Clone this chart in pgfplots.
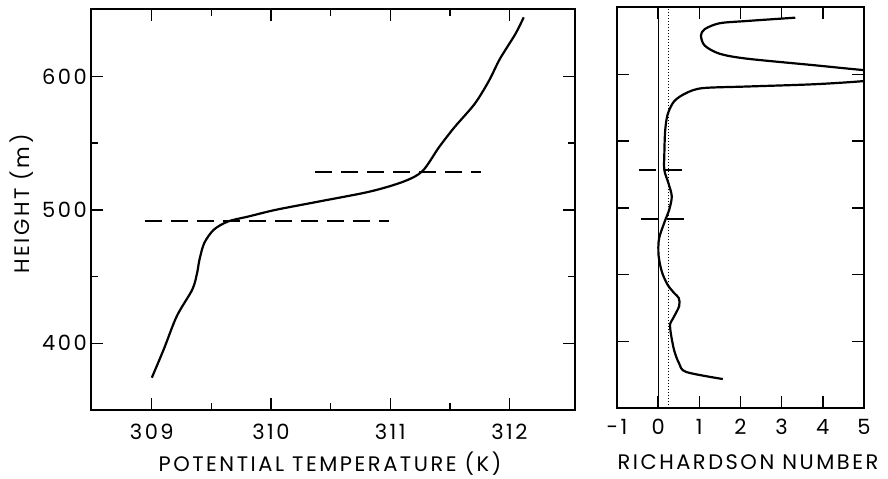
\documentclass[border=0pt]{standalone}
\usepackage{fontspec}
\setmainfont{Poppins}
\newfontfamily\lbl[LetterSpace=12]{Poppins}
\usepackage{pgfplots}
\pgfplotsset{compat=1.18}

% potential temperature profile (K vs m)
\newcommand{\fs}{\lbl\fontsize{21bp}{23bp}\selectfont}

\begin{document}
\begin{tikzpicture}
\useasboundingbox (-91bp,-69bp) rectangle (797bp,410bp);

\pgfplotsset{
  every axis/.append style={
    scale only axis,
    axis line style={line width=1.4bp},
    tick style={line width=1.4bp, black},
    tick align=inside,
    major tick length=12bp,
    minor tick length=7bp,
    /pgf/number format/assume math mode=true,
    tick label style={font=\fs},
    clip=true,
  },
}

\begin{axis}[
  at={(0bp,0bp)}, anchor=south west,
  width=484bp, height=401bp,
  xmin=308.49, xmax=312.55,
  ymin=350, ymax=650.5,
  xtick={309,310,311,312},
  xticklabels={309,310,311,312},
  minor xtick={309.5,310.5,311.5},
  ytick={400,500,600},
  yticklabels={400,500,600},
  minor ytick={450,550},
  xticklabel style={anchor=center, yshift=-22bp},
  yticklabel style={anchor=east, inner sep=1bp, xshift=-3bp},
  xtick pos=both, ytick pos=both,
]
\addplot[line width=2.2bp, smooth, tension=0.5] coordinates {
  (309.00,374.2) (309.10,395.4) (309.21,420.4) (309.34,440.3)
  (309.38,452.7) (309.40,462.7) (309.44,475.1) (309.52,485.1)
  (309.64,491.3) (309.81,495.0) (310.04,500.0) (310.40,506.2)
  (310.83,513.7) (311.11,521.1) (311.27,529.0) (311.41,547.0)
  (311.54,562.0) (311.71,579.6) (311.83,597.0) (311.92,613.1)
  (312.05,631.8) (312.12,644.3)
};
\addplot[line width=1.4bp, dash pattern=on 17bp off 9bp] coordinates {
  (308.94,491.5) (310.99,491.5)
};
\addplot[line width=1.4bp, dash pattern=on 17bp off 9bp] coordinates {
  (310.37,528.3) (311.76,528.3)
};
\end{axis}

\begin{axis}[
  at={(526bp,2bp)}, anchor=south west,
  width=247bp, height=401bp,
  xmin=-1, xmax=5,
  ymin=350, ymax=650.5,
  xtick={-1,0,1,2,3,4,5},
  xticklabels={-1,0,1,2,3,4,5},
  ytick={400,450,500,550,600},
  yticklabels={},
  xticklabel style={anchor=center, yshift=-19bp},
  xtick pos=both, ytick pos=both,
]
\addplot[line width=0.8bp] coordinates {(0,350) (0,650.5)};
\addplot[line width=1bp, dotted] coordinates {(0.25,350) (0.25,650.5)};
\addplot[line width=2.2bp, smooth, tension=0.5] coordinates {
  (1.57,371.7) (0.68,377.0) (0.51,383.3) (0.39,393.0) (0.31,405.4)
  (0.29,412.8) (0.35,416.5) (0.51,426.3) (0.50,432.4) (0.39,436.1)
  (0.23,442.3) (0.09,452.0) (0.01,464.4) (0.02,476.7) (0.15,489.0)
  (0.27,498.8) (0.33,508.6) (0.25,518.4) (0.15,528.3) (0.15,540.5)
  (0.17,557.7) (0.23,570.0) (0.39,579.9) (0.68,586.0) (1.08,589.7)
  (2.15,590.9) (3.78,592.6) (5.00,595.0) (6.50,599.5) (5.00,603.2)
  (3.78,606.9) (2.15,611.8) (1.49,615.5) (1.13,621.6) (1.04,629.0)
  (1.13,633.9) (1.49,638.3) (2.15,640.0) (3.33,642.5)
};
\addplot[line width=1.4bp, dash pattern=on 17bp off 9bp] coordinates {
  (-0.47,528.3) (0.76,528.3)
};
\addplot[line width=1.4bp, dash pattern=on 17bp off 9bp] coordinates {
  (-0.42,491.5) (0.83,491.5)
};
\end{axis}

\node[rotate=90, font=\fs] at (-69bp,206bp) {HEIGHT (m)};
\node[font=\fs] at (239bp,-54bp) {POTENTIAL TEMPERATURE (K)};
\node[font=\fs] at (657bp,-52bp) {RICHARDSON NUMBER};
\end{tikzpicture}
\end{document}
